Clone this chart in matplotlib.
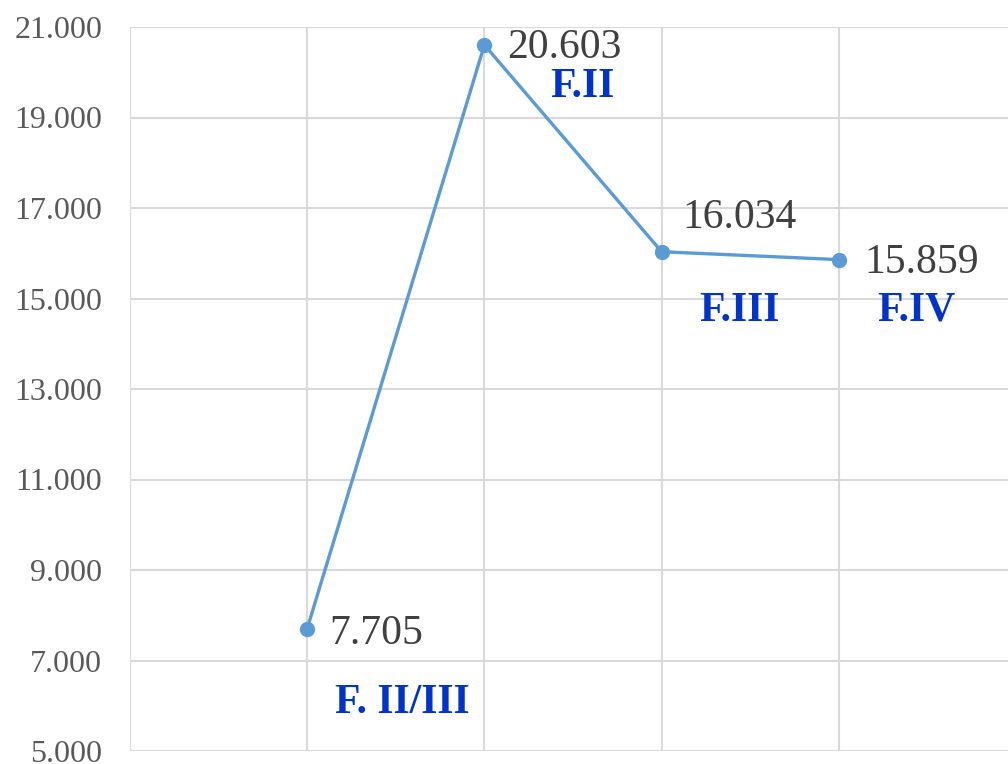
import matplotlib
matplotlib.use("Agg")
import matplotlib.pyplot as plt
from matplotlib.ticker import FuncFormatter

# Data
x_pos = [1, 2, 3, 4]
values = [7.705, 20.603, 16.034, 15.859]
value_labels = ["7.705", "20.603", "16.034", "15.859"]
phase_names = ["F. II/III", "F.II", "F.III", "F.IV"]
y_ticks = [5, 7, 9, 11, 13, 15, 17, 19, 21]

# label offsets in pixels (layout only)
val_off = [(22, -5), (23, -3), (78, 34), (26, -3)]
val_ha = ["left", "left", "center", "left"]
name_off = [(95, -74), (98, -42), (78, -59), (78, -51)]

plt.rcParams['font.family'] = ['Liberation Serif', 'DejaVu Serif']

fig = plt.figure(figsize=(10.08, 7.64), dpi=100)
W, H = 1008, 764
ax = fig.add_axes([130 / W, 13 / H, (W - 130) / W, (751 - 27) / H])

ax.plot(x_pos, values, color="#5B9BD5", lw=2.4, marker="o", markersize=10,
        solid_capstyle="round", zorder=3)

ax.set_ylim(5, 21)
ax.set_xlim(0, (W - 130) / 177.2)
ax.set_yticks(y_ticks)
ax.yaxis.set_major_formatter(FuncFormatter(lambda v, p: f"{v:.3f}"))
ax.set_xticks(range(0, 5))
ax.set_xticklabels([])
ax.tick_params(axis="both", length=0)
ax.tick_params(axis="y", labelsize=23, labelcolor="#595959", pad=20)
ax.grid(True, color="#D9D9D9", lw=1.5, zorder=0)
ax.set_axisbelow(True)
for s in ax.spines.values():
    s.set_visible(False)

for xi, yi, lab, off, ha in zip(x_pos, values, value_labels, val_off, val_ha):
    ax.annotate(lab, (xi, yi), xytext=off, textcoords="offset pixels",
                ha=ha, va="center", fontsize=30, color="#404040",
                annotation_clip=False)

for xi, yi, nm, off in zip(x_pos, values, phase_names, name_off):
    ax.annotate(nm, (xi, yi), xytext=off, textcoords="offset pixels",
                ha="center", va="center", fontsize=30, color="#0033CC",
                fontweight="bold", annotation_clip=False)

fig.savefig("out.png", dpi=100)
